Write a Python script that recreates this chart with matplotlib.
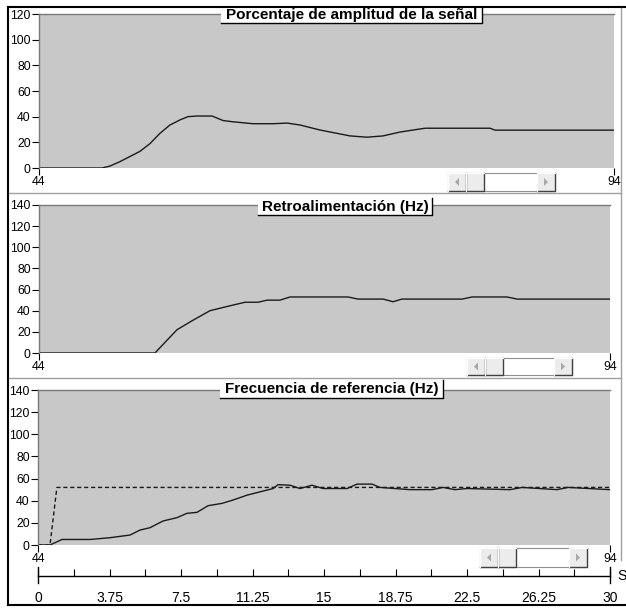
import matplotlib
matplotlib.use("Agg")
import matplotlib.pyplot as plt
from matplotlib.patches import Rectangle, Polygon

W, H = 626, 608

# --- data (time in s) ---
amp_t = [0, 3.29, 3.70, 4.23, 4.75, 5.27, 5.79, 6.31, 6.83, 7.36, 7.77, 8.24,
         9.03, 9.60, 10.12, 11.17, 12.21, 12.94, 13.62, 14.66, 16.23, 17.11,
         17.95, 18.83, 20.14, 23.53, 23.79, 30.0]
amp_v = [0, 0, 1.5, 5, 9, 13, 19, 27, 33.5, 37.5, 40, 40.5,
         40.5, 37, 36, 34.5, 34.5, 35, 33.5, 29.6, 25, 24,
         25, 28, 31, 31, 29.5, 29.5]

fb_t = [0, 6.09, 7.25, 8.09, 8.98, 9.88, 10.82, 11.51, 11.98, 12.66, 13.19,
        16.24, 16.76, 18.08, 18.6, 19.07, 22.23, 22.75, 24.59, 25.12, 30]
fb_v = [0, 0, 22, 31, 40, 44, 48, 48, 50, 50, 53,
        53, 51, 51, 48.5, 51, 51, 53, 53, 51, 51]

ref_t = [0, 0.63, 0.99, 30]
ref_v = [0, 0, 52, 52]

freq_t = [0, 0.63, 1.26, 2.73, 3.78, 4.83, 5.35, 5.87, 6.56, 7.29, 7.81, 8.34,
          8.92, 9.65, 10.23, 10.96, 11.64, 12.33, 12.59, 13.22, 13.74, 14.37,
          14.95, 16.21, 16.73, 17.52, 17.94, 19.51, 20.67, 21.24, 21.87, 22.5,
          24.76, 25.39, 27.22, 27.8, 30]
freq_v = [0, 0, 5, 5, 6.6, 9, 13.5, 15.6, 21.7, 24.7, 28.6, 29.5,
          35.5, 37.6, 40.6, 45, 48, 51, 54.5, 54, 51, 54,
          51, 51, 55, 55, 52, 50, 50, 52, 50, 51,
          50, 52, 50, 52, 50]

titles = ["Porcentaje de amplitud de la señal", "Retroalimentación (Hz)",
          "Frecuencia de referencia (Hz)"]
ymax = [120, 140, 140]
x_labels = ["44", "94"]
time_ticks = [0, 3.75, 7.5, 11.25, 15, 18.75, 22.5, 26.25, 30]
time_minor = [1.875, 5.625, 9.375, 13.125, 16.875, 20.625, 24.375, 28.125]

BG = "#c8c8c8"
LINE = "#1a1a1a"
FONT = "Liberation Sans"


def rect(x0, y0, x1, y1):
    return [x0 / W, 1 - y1 / H, (x1 - x0) / W, (y1 - y0) / H]


fig = plt.figure(figsize=(W / 100, H / 100), dpi=100)
fig.patch.set_facecolor("white")

panels = [(39, 14, 614, 168), (39, 205, 610, 353), (38, 390, 610, 545)]
axes = []
for i, (x0, y0, x1, y1) in enumerate(panels):
    ax = fig.add_axes(rect(x0, y0, x1, y1))
    ax.set_facecolor(BG)
    ax.set_xlim(0, 30)
    ax.set_ylim(0, ymax[i])
    for s in ["right", "bottom"]:
        ax.spines[s].set_visible(False)
    for s in ["left", "top"]:
        ax.spines[s].set_color("#7a7a7a")
        ax.spines[s].set_linewidth(1)
    ax.set_yticks(range(0, ymax[i] + 1, 20))
    ax.tick_params(axis="y", direction="out", length=5, width=0.8, pad=1,
                   labelsize=8.8, colors="black")
    ax.set_xticks([0, 30])
    ax.set_xticklabels(x_labels)
    ax.tick_params(axis="x", direction="out", length=5, width=0.8, pad=1,
                   labelsize=8.8)
    for lab in ax.get_xticklabels() + ax.get_yticklabels():
        lab.set_fontfamily(FONT)
    axes.append(ax)

axes[0].plot(amp_t, amp_v, color=LINE, lw=1)
axes[1].plot(fb_t, fb_v, color=LINE, lw=1)
axes[2].plot(ref_t, ref_v, color=LINE, lw=1, dashes=(3, 2))
axes[2].plot(freq_t, freq_v, color=LINE, lw=1)

# time axis under the last plot
tax = fig.add_axes(rect(38, 575, 610, 576))
tax.set_xlim(0, 30)
tax.set_ylim(0, 1)
tax.patch.set_visible(False)
for s in ["left", "right", "top"]:
    tax.spines[s].set_visible(False)
tax.spines["bottom"].set_linewidth(1)
tax.set_yticks([])
tax.set_xticks(time_ticks)
tax.set_xticklabels([f"{v:g}" for v in time_ticks], fontfamily=FONT, fontsize=10)
tax.set_xticks(time_minor, minor=True)
tax.tick_params(axis="x", which="both", direction="in", length=5, width=0.8, pad=11)
# longer end marks
for xe in [time_ticks[0], time_ticks[-1]]:
    tax.plot([xe, xe], [-7, 9], transform=tax.get_xaxis_transform(),
             color="black", lw=1, clip_on=False)
tax.text(1.012, 0, "S", transform=tax.transAxes, ha="left", va="center",
         fontfamily=FONT, fontsize=10)

# overlay in pixel coords for window chrome
deco = fig.add_axes([0, 0, 1, 1])
deco.set_xlim(0, W)
deco.set_ylim(H, 0)
deco.axis("off")
deco.patch.set_visible(False)
deco.set_zorder(10)

# outer frame and separators
deco.plot([8, 8], [7, 605], color="black", lw=1.5)
deco.plot([8, W], [7, 7], color="black", lw=1.5)
deco.plot([8, W], [605, 605], color="black", lw=1.5)
deco.plot([621, 621], [8, 560], color="#a0a0a0", lw=1)
for y in [193, 378]:
    deco.plot([9, 621], [y, y], color="#a0a0a0", lw=1)

# titles
title_boxes = [(221, 7, 482, 23), (258, 198, 432, 215), (220, 380, 443, 398)]
for (x0, y0, x1, y1), t in zip(title_boxes, titles):
    deco.add_patch(Rectangle((x0, y0), x1 - x0, y1 - y0, facecolor="white",
                             edgecolor="none"))
    deco.plot([x0, x1, x1], [y1, y1, y0], color="black", lw=1)
    deco.text((x0 + x1) / 2, (y0 + y1) / 2 + 0.5, t, ha="center", va="center",
              fontfamily=FONT, fontweight="bold", fontsize=11)

# scrollbars
scrolls = [(448, 173, 555, 191), (467, 358, 572, 375), (480, 548, 587, 567)]
for x0, y0, x1, y1 in scrolls:
    bw = 18
    deco.add_patch(Rectangle((x0, y0), x1 - x0, y1 - y0, facecolor="white",
                             edgecolor="#909090", lw=0.8))
    for bx in [x0, x1 - bw, x0 + bw]:
        deco.add_patch(Rectangle((bx, y0), bw, y1 - y0, facecolor="#ececec",
                                 edgecolor="none"))
        deco.plot([bx, bx + bw, bx + bw], [y1, y1, y0], color="#404040", lw=1)
        deco.plot([bx, bx, bx + bw], [y1, y0, y0], color="white", lw=0.8)
    cy = (y0 + y1) / 2
    deco.add_patch(Polygon([(x0 + 11, cy - 4), (x0 + 11, cy + 4), (x0 + 7, cy)],
                           facecolor="#a8a8a8", edgecolor="none"))
    deco.add_patch(Polygon([(x1 - 11, cy - 4), (x1 - 11, cy + 4), (x1 - 7, cy)],
                           facecolor="#a8a8a8", edgecolor="none"))

fig.savefig("out.png", dpi=100)
